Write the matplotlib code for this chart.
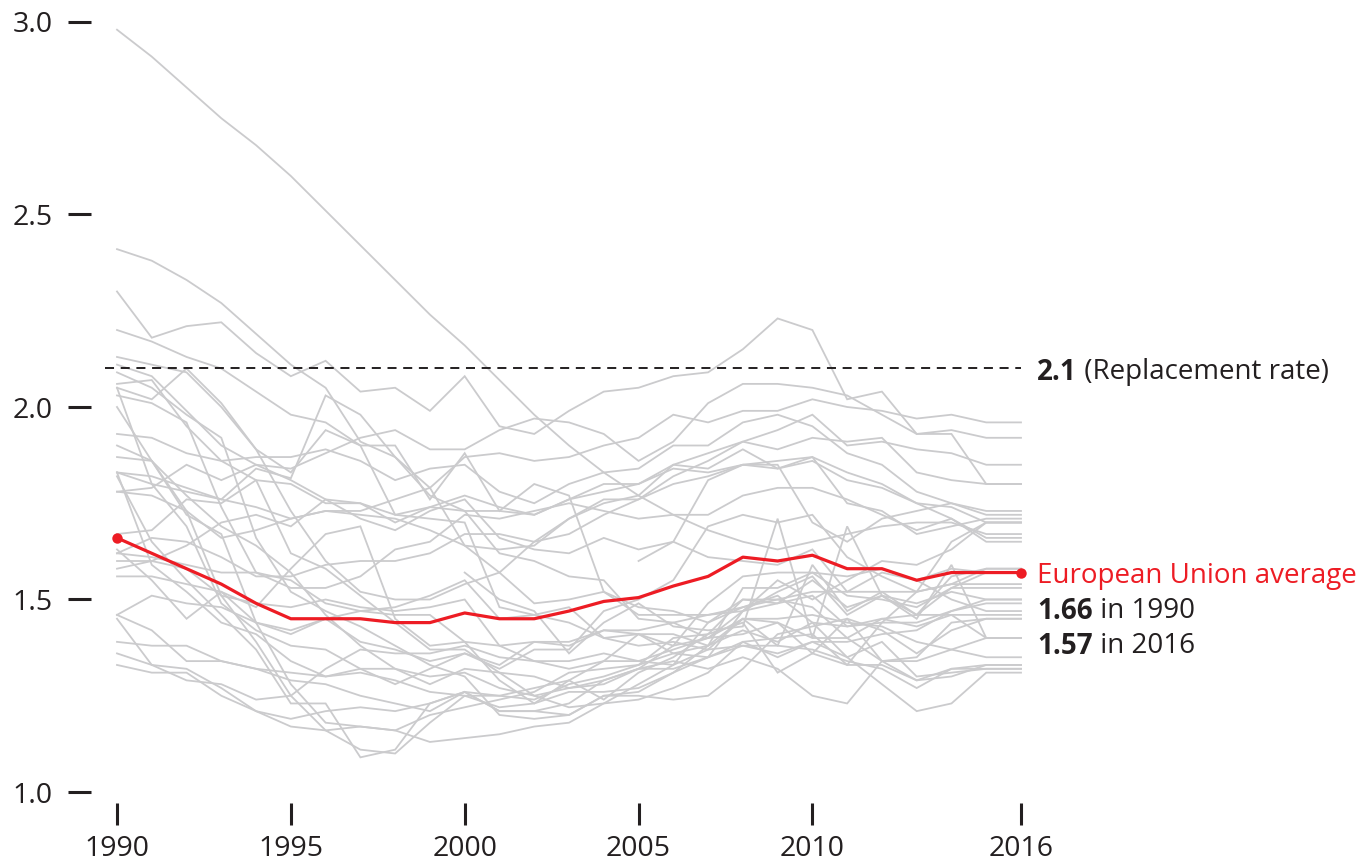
import numpy as np
import matplotlib
matplotlib.use("Agg")
import matplotlib.pyplot as plt

plt.rcParams['font.family'] = ['Open Sans', 'DejaVu Sans']
plt.rcParams['lines.scale_dashes'] = False

years = list(range(1990, 2017))
N = float('nan')

# Total fertility rate by country
albania = [2.98, 2.91, 2.83, 2.75, 2.68, 2.60, 2.51, 2.42, 2.33, 2.24, 2.16, 2.07, 1.98, 1.90, 1.83, 1.77, 1.72, 1.68, 1.65, 1.63, 1.65, 1.67, 1.69, 1.70, 1.70, 1.67, 1.67]
cyprus = [2.41, 2.38, 2.33, 2.27, 2.19, 2.11, 2.05, 1.91, 1.87, 1.79, 1.64, 1.57, 1.49, 1.50, 1.52, 1.48, 1.47, 1.44, 1.48, 1.51, 1.44, 1.35, 1.39, 1.30, 1.31, 1.32, 1.32]
iceland = [2.30, 2.18, 2.21, 2.22, 2.14, 2.08, 2.12, 2.04, 2.05, 1.99, 2.08, 1.95, 1.93, 1.99, 2.04, 2.05, 2.08, 2.09, 2.15, 2.23, 2.20, 2.02, 2.04, 1.93, 1.93, 1.80, 1.80]
macedonia = [2.20, 2.17, 2.13, 2.10, 2.04, 1.98, 1.96, 1.90, 1.90, 1.76, 1.88, 1.73, 1.80, 1.77, 1.52, 1.46, 1.46, 1.46, 1.47, 1.52, 1.56, 1.46, 1.51, 1.49, 1.52, 1.50, 1.50]
sweden = [2.13, 2.11, 2.09, 2.00, 1.89, 1.73, 1.60, 1.52, 1.50, 1.50, 1.54, 1.57, 1.65, 1.71, 1.75, 1.77, 1.85, 1.88, 1.91, 1.94, 1.98, 1.90, 1.91, 1.89, 1.88, 1.85, 1.85]
ireland = [2.11, 2.08, 1.99, 1.90, 1.85, 1.84, 1.88, 1.92, 1.94, 1.89, 1.89, 1.94, 1.97, 1.96, 1.93, 1.86, 1.91, 2.01, 2.06, 2.06, 2.05, 2.03, 1.98, 1.93, 1.94, 1.92, 1.92]
slovakia = [2.09, 2.05, 1.98, 1.92, 1.66, 1.52, 1.47, 1.43, 1.38, 1.33, 1.30, 1.20, 1.19, 1.20, 1.25, 1.25, 1.24, 1.25, 1.32, 1.41, 1.43, 1.45, 1.34, 1.34, 1.37, 1.40, 1.40]
poland = [2.06, 2.07, 1.95, 1.86, 1.81, 1.62, 1.58, 1.51, 1.44, 1.37, 1.37, 1.31, 1.25, 1.22, 1.23, 1.24, 1.27, 1.31, 1.39, 1.40, 1.41, 1.33, 1.33, 1.29, 1.32, 1.32, 1.32]
malta = [2.05, 2.02, 2.10, 2.01, 1.89, 1.83, 1.94, 1.90, 1.72, 1.71, 1.70, 1.48, 1.46, 1.48, 1.40, 1.38, 1.39, 1.37, 1.45, 1.44, 1.36, 1.45, 1.42, 1.36, 1.42, 1.45, 1.45]
estonia = [2.05, 1.80, 1.69, 1.49, 1.42, 1.38, 1.37, 1.32, 1.28, 1.32, 1.36, 1.32, 1.37, 1.37, 1.47, 1.50, 1.55, 1.69, 1.72, 1.70, 1.72, 1.61, 1.56, 1.52, 1.54, 1.58, 1.58]
lithuania = [2.03, 2.01, 1.96, 1.74, 1.57, 1.55, 1.49, 1.47, 1.46, 1.46, 1.39, 1.29, 1.23, 1.26, 1.26, 1.27, 1.31, 1.35, 1.47, 1.55, 1.50, 1.55, 1.60, 1.59, 1.63, 1.70, 1.70]
latvia = [2.00, 1.86, 1.73, 1.51, 1.39, 1.25, 1.16, 1.11, 1.10, 1.18, 1.25, 1.22, 1.23, 1.29, 1.24, 1.31, 1.35, 1.41, 1.44, 1.31, 1.36, 1.33, 1.44, 1.52, 1.65, 1.70, 1.70]
norway = [1.93, 1.92, 1.88, 1.86, 1.87, 1.87, 1.89, 1.86, 1.81, 1.84, 1.85, 1.78, 1.75, 1.80, 1.83, 1.84, 1.90, 1.90, 1.96, 1.98, 1.95, 1.88, 1.85, 1.78, 1.75, 1.72, 1.72]
czechia = [1.90, 1.86, 1.72, 1.67, 1.44, 1.28, 1.18, 1.17, 1.16, 1.13, 1.14, 1.15, 1.17, 1.18, 1.23, 1.28, 1.33, 1.44, 1.50, 1.49, 1.51, 1.43, 1.45, 1.46, 1.53, 1.57, 1.57]
hungary = [1.87, 1.86, 1.77, 1.69, 1.64, 1.57, 1.46, 1.38, 1.32, 1.28, 1.32, 1.31, 1.30, 1.27, 1.28, 1.32, 1.34, 1.32, 1.35, 1.32, 1.25, 1.23, 1.34, 1.35, 1.44, 1.45, 1.45]
united_kingdom = [1.83, 1.82, 1.79, 1.76, 1.74, 1.71, 1.73, 1.72, 1.71, 1.68, 1.64, 1.63, 1.64, 1.71, 1.76, 1.76, 1.82, 1.86, 1.91, 1.89, 1.92, 1.91, 1.92, 1.83, 1.81, 1.80, 1.80]
romania = [1.83, 1.59, 1.52, 1.44, 1.41, 1.34, 1.30, 1.32, 1.32, 1.30, 1.31, 1.27, 1.25, 1.27, 1.29, 1.32, 1.32, 1.35, 1.38, 1.38, 1.59, 1.47, 1.52, 1.46, 1.56, 1.58, 1.58]
serbia = [1.83, 1.80, 1.78, 1.76, 1.84, 1.815, 2.03, 1.98, 1.87, 1.77, 1.73, 1.62, 1.60, 1.56, 1.55, 1.45, 1.44, 1.40, 1.41, 1.44, 1.40, 1.40, 1.45, 1.43, 1.46, 1.46, 1.46]
bulgaria = [1.82, 1.65, 1.55, 1.46, 1.37, 1.23, 1.23, 1.09, 1.11, 1.23, 1.26, 1.21, 1.21, 1.23, 1.29, 1.32, 1.38, 1.49, 1.56, 1.57, 1.57, 1.51, 1.50, 1.48, 1.53, 1.53, 1.53]
france = [1.78, 1.77, 1.73, 1.66, 1.68, 1.71, 1.73, 1.73, 1.76, 1.79, 1.87, 1.88, 1.86, 1.87, 1.90, 1.92, 1.98, 1.96, 1.99, 1.99, 2.02, 2.00, 1.99, 1.97, 1.98, 1.96, 1.96]
finland = [1.78, 1.79, 1.85, 1.81, 1.85, 1.81, 1.76, 1.75, 1.70, 1.74, 1.73, 1.73, 1.72, 1.76, 1.80, 1.80, 1.84, 1.83, 1.85, 1.86, 1.87, 1.83, 1.80, 1.75, 1.71, 1.65, 1.65]
denmark = [1.67, 1.68, 1.76, 1.75, 1.81, 1.80, 1.75, 1.75, 1.72, 1.74, 1.77, 1.74, 1.72, 1.76, 1.78, 1.80, 1.85, 1.84, 1.89, 1.84, 1.87, 1.75, 1.73, 1.67, 1.69, 1.71, 1.71]
croatia = [1.63, 1.55, 1.45, 1.52, 1.48, 1.58, 1.67, 1.69, 1.45, 1.38, 1.39, 1.38, 1.34, 1.32, 1.34, 1.41, 1.38, 1.40, 1.47, 1.49, 1.55, 1.48, 1.51, 1.46, 1.46, 1.40, 1.40]
belgium = [1.62, 1.66, 1.65, 1.61, 1.56, 1.56, 1.59, 1.60, 1.60, 1.62, 1.67, 1.67, 1.65, 1.67, 1.72, 1.76, 1.80, 1.82, 1.85, 1.84, 1.86, 1.81, 1.79, 1.75, 1.74, 1.70, 1.70]
netherlands = [1.62, 1.61, 1.59, 1.57, 1.57, 1.53, 1.53, 1.56, 1.63, 1.65, 1.72, 1.71, 1.73, 1.75, 1.73, 1.71, 1.72, 1.72, 1.77, 1.79, 1.79, 1.76, 1.72, 1.68, 1.71, 1.66, 1.66]
luxembourg = [1.60, 1.60, 1.64, 1.70, 1.72, 1.69, 1.76, 1.71, 1.68, 1.73, 1.76, 1.66, 1.63, 1.62, 1.66, 1.63, 1.65, 1.61, 1.60, 1.59, 1.63, 1.52, 1.57, 1.55, 1.50, 1.47, 1.47]
switzerland = [1.58, 1.60, 1.58, 1.51, 1.49, 1.48, 1.50, 1.48, 1.47, 1.48, 1.50, 1.38, 1.39, 1.39, 1.42, 1.42, 1.44, 1.46, 1.48, 1.50, 1.52, 1.52, 1.52, 1.52, 1.54, 1.54, 1.54]
portugal = [1.56, 1.56, 1.54, 1.52, 1.44, 1.41, 1.45, 1.47, 1.48, 1.51, 1.55, 1.45, 1.46, 1.44, 1.40, 1.41, 1.36, 1.35, 1.39, 1.35, 1.39, 1.35, 1.28, 1.21, 1.23, 1.31, 1.31]
slovenia = [1.46, 1.42, 1.34, 1.34, 1.32, 1.29, 1.28, 1.25, 1.23, 1.21, 1.26, 1.21, 1.21, 1.20, 1.25, 1.26, 1.31, 1.38, 1.53, 1.53, 1.57, 1.56, 1.58, 1.55, 1.58, 1.57, 1.57]
austria = [1.46, 1.51, 1.49, 1.48, 1.44, 1.42, 1.45, 1.39, 1.37, 1.34, 1.36, 1.33, 1.39, 1.38, 1.42, 1.41, 1.41, 1.38, 1.42, 1.39, 1.44, 1.43, 1.44, 1.44, 1.47, 1.49, 1.49]
germany = [1.45, 1.33, 1.29, 1.28, 1.24, 1.25, 1.32, 1.37, 1.36, 1.36, 1.38, 1.35, 1.34, 1.34, 1.36, 1.34, 1.33, 1.37, 1.38, 1.36, 1.39, 1.39, 1.41, 1.42, 1.47, 1.50, 1.50]
greece = [1.39, 1.38, 1.38, 1.34, 1.32, 1.31, 1.30, 1.31, 1.29, 1.26, 1.25, 1.25, 1.24, 1.28, 1.30, 1.33, 1.40, 1.41, 1.50, 1.50, 1.48, 1.40, 1.34, 1.29, 1.30, 1.33, 1.33]
spain = [1.36, 1.33, 1.32, 1.27, 1.21, 1.17, 1.16, 1.17, 1.16, 1.20, 1.22, 1.24, 1.26, 1.31, 1.32, 1.33, 1.36, 1.38, 1.45, 1.38, 1.37, 1.34, 1.32, 1.27, 1.32, 1.33, 1.33]
italy = [1.33, 1.31, 1.31, 1.25, 1.21, 1.19, 1.21, 1.22, 1.21, 1.23, 1.26, 1.25, 1.27, 1.29, 1.34, 1.34, 1.37, 1.40, 1.45, 1.45, 1.46, 1.44, 1.43, 1.39, 1.37, 1.35, 1.35]
liechtenstein = [N, N, N, N, N, N, N, N, N, N, 1.57, 1.50, 1.47, 1.36, 1.44, 1.49, 1.43, 1.42, 1.43, 1.71, 1.40, 1.69, 1.51, 1.45, 1.59, 1.40, 1.40]
montenegro = [N, N, N, N, N, N, N, N, N, N, N, N, N, N, N, 1.60, 1.65, 1.81, 1.85, 1.85, 1.70, 1.65, 1.71, 1.73, 1.75, 1.73, 1.73]

countries = [albania, cyprus, iceland, macedonia, sweden, ireland, slovakia, poland, malta,
             estonia, lithuania, latvia, norway, czechia, hungary, united_kingdom, romania,
             serbia, bulgaria, france, finland, denmark, croatia, belgium, netherlands,
             luxembourg, switzerland, portugal, slovenia, austria, germany, greece, spain,
             italy, liechtenstein, montenegro]

eu_average = [1.66, 1.62, 1.58, 1.54, 1.49, 1.45, 1.45, 1.45, 1.44, 1.44, 1.465, 1.45, 1.45, 1.47, 1.495, 1.505, 1.535, 1.56, 1.61, 1.60, 1.615, 1.58, 1.58, 1.55, 1.57, 1.57, 1.57]

replacement_rate = 2.1
y_ticks = [1.0, 1.5, 2.0, 2.5, 3.0]
x_ticks = [1990, 1995, 2000, 2005, 2010, 2016]

GRAY = '#cbcbcd'
RED = '#ed1c24'
DARK = '#231f20'
W, H = 1366, 863
FS_TICK = 20.5
FS_NOTE = 20

fig = plt.figure(figsize=(W / 100, H / 100), dpi=100)
ax = fig.add_axes([117 / W, (H - 792) / H, (1021 - 117) / W, (792 - 22) / H])
ax.set_xlim(1990, 2016)
ax.set_ylim(1.0, 3.0)

for series in countries:
    ax.plot(years, series, color=GRAY, lw=1.3, clip_on=False, zorder=2,
            solid_joinstyle='miter')

# replacement-rate line
ax.plot([1989.65, 2016], [replacement_rate, replacement_rate], color=DARK, lw=1.4,
        dashes=(6.5, 4.8), clip_on=False, zorder=3)

# EU average
ax.plot(years, eu_average, color=RED, lw=2.3, clip_on=False, zorder=4)
ax.plot([years[0], years[-1]], [eu_average[0], eu_average[-1]], 'o', color=RED,
        ms=7.5, mew=0, clip_on=False, zorder=5)

# axes styling
for side in ['top', 'right']:
    ax.spines[side].set_visible(False)
ax.spines['left'].set_position(('outward', 26 * 0.72))
ax.spines['bottom'].set_position(('outward', 11 * 0.72))
ax.spines['left'].set_visible(False)
ax.spines['bottom'].set_visible(False)

ax.set_yticks(y_ticks)
ax.set_yticklabels([f'{v:.1f}' for v in y_ticks])
ax.set_xticks(x_ticks)
ax.set_xticklabels([str(v) for v in x_ticks])
ax.tick_params(axis='y', direction='out', length=23 * 0.72, width=2.2, color=DARK,
               pad=15 * 0.72, labelsize=FS_TICK, labelcolor=DARK)
ax.tick_params(axis='x', direction='out', length=22 * 0.72, width=2.2, color=DARK,
               pad=10 * 0.72, labelsize=FS_TICK, labelcolor=DARK)

# annotations
x_text = 2016 + (1037 - 1021) / ((1021 - 117) / 26)
fig.canvas.draw()
renderer = fig.canvas.get_renderer()

t1 = ax.text(x_text, replacement_rate, '2.1', fontsize=FS_NOTE, fontweight='bold', color=DARK,
             va='center_baseline', ha='left', clip_on=False)
bb = t1.get_window_extent(renderer)
x2 = ax.transData.inverted().transform((bb.x1, 0))[0]
ax.text(x2, replacement_rate, ' (Replacement rate)', fontsize=FS_NOTE, color=DARK,
        va='center_baseline', ha='left', clip_on=False)

ax.text(x_text, eu_average[-1], 'European Union average', fontsize=FS_NOTE, color=RED,
        va='center_baseline', ha='left', clip_on=False)

line_gap = 35 / 385  # data units per line of text
for i, (val, yr) in enumerate([(eu_average[0], years[0]), (eu_average[-1], years[-1])]):
    yy = eu_average[-1] - line_gap * (i + 1)
    tb = ax.text(x_text, yy, f'{val:.2f}', fontsize=FS_NOTE, fontweight='bold', color=DARK,
                 va='center_baseline', ha='left', clip_on=False)
    b = tb.get_window_extent(renderer)
    xx = ax.transData.inverted().transform((b.x1, 0))[0]
    ax.text(xx, yy, f' in {yr}', fontsize=FS_NOTE, color=DARK,
            va='center_baseline', ha='left', clip_on=False)

fig.savefig('out.png', dpi=100)
